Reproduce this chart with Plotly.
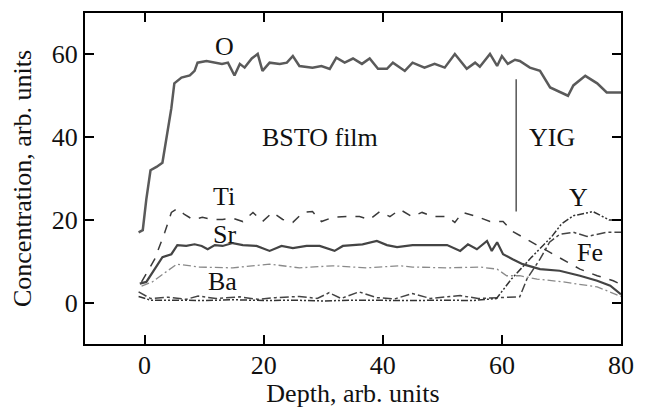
import plotly.graph_objects as go

# ---- data ----
o_x = [-1.0, -0.3, 0.3, 1.0, 2.0, 3.0, 4.5, 5.0, 6.2, 7.6, 8.4, 8.9, 10.4, 11.8, 13.0, 14.0, 15.1, 16.0, 16.8,
       18.0, 19.0, 19.8, 21.0, 22.7, 23.9, 24.9, 26.0, 28.2, 29.7, 31.1, 32.2, 33.6, 35.0, 36.5, 37.8, 39.2,
       40.7, 41.7, 43.7, 45.0, 47.0, 48.7, 50.4, 52.1, 54.1, 55.5, 56.3, 58.0, 59.2, 60.0, 61.0, 62.2, 63.0,
       64.7, 66.4, 68.1, 69.2, 71.1, 72.0, 74.0, 76.0, 77.6, 79.5, 80.0]
o_y = [17, 17.5, 25, 32, 32.8, 33.8, 47, 53, 54.4, 54.9, 56, 58, 58.4, 58, 57.7, 58, 54.9, 57.7, 56.8,
       59, 60.1, 56, 58, 57.7, 58, 59.6, 57.2, 56.8, 57.2, 56.5, 59.2, 58, 59, 57.7, 59, 56.5,
       56.5, 58, 56, 58, 56.8, 57.7, 56.8, 60.1, 56.5, 58, 57, 60.1, 57.2, 59.6, 57.7, 58.7, 58.4,
       56.8, 56, 52, 51.3, 50, 52.5, 54.8, 53, 50.8, 50.8, 50.8]

ti_x = [-0.5, 1.7, 3.4, 4.5, 5.5, 6.7, 8.1, 9.7, 11.4, 13.1, 14.8, 16.5, 18.2, 19.8, 21.5, 23.2, 24.9, 26.6,
        28.2, 29.7, 31.6, 33.9, 36.1, 37.8, 39.5, 41.2, 42.9, 44.9, 46.6, 48.4, 50.8, 52.1, 53.4, 55.8, 58.0,
        60.2, 61.8, 64.2, 67.6, 70.3, 73.1, 76.0, 78.7, 80.0]
ti_y = [5, 10.5, 17, 21.8, 22.7, 21.3, 20.1, 20.6, 20.1, 20.1, 20.4, 19.6, 21.8, 19.6, 21.8, 20.1, 19.4, 21.8,
        22, 19.6, 20.6, 20.8, 20.8, 20.1, 22, 20.8, 22.5, 20.8, 21.8, 20.8, 20.8, 19.4, 21.8, 20.8, 19.6,
        19.6, 17.2, 15.3, 12.5, 10.5, 8.1, 6.5, 5.3, 4.4]

sr_x = [-0.8, 0.3, 3.0, 4.5, 5.5, 7.0, 8.4, 9.6, 10.6, 11.8, 13.1, 14.8, 16.5, 18.8, 21.0, 23.0, 24.9, 27.2,
        29.4, 31.9, 33.3, 36.6, 39.0, 40.7, 42.4, 45.0, 50.8, 53.0, 54.3, 55.8, 57.5, 58.3, 59.2, 60.2,
        61.8, 63.5, 66.4, 69.7, 73.1, 76.0, 78.2, 80.0]
sr_y = [4.6, 5.0, 11, 11.7, 13.9, 13.7, 14.1, 13.7, 12.9, 13.9, 13.7, 14.4, 13.9, 13.7, 12.5, 13.7, 13.2, 13.7,
        13.7, 12.5, 13.7, 14.1, 14.9, 13.9, 13.4, 13.9, 13.9, 12.5, 14.1, 12.9, 14.9, 12.5, 14.6, 11.7,
        10.5, 9.3, 8.1, 7.7, 6.5, 5.3, 4.1, 2.0]

ba_x = [-0.5, 1.3, 5.4, 9.2, 14.8, 21.0, 26.0, 31.6, 37.3, 42.9, 45.0, 50.8, 56.3, 59.2, 60.8, 63.0, 65.9,
        70.3, 76.0, 80.0]
ba_y = [4, 5, 9.3, 8.6, 8.4, 9.3, 8.4, 8.9, 8.4, 8.9, 8.6, 8.4, 8.6, 8.1, 6.5, 6.5, 5.7, 5.0, 3.8, 1.5]

y_x = [-1.0, 1.0, 5.0, 10.0, 15.0, 20.0, 25.0, 30.0, 35.0, 40.0, 45.0, 50.0, 55.0, 59.1, 61.6, 65.0, 68.4,
       70.0, 72.0, 75.3, 78.0, 80.0]
y_y = [1.5, 0.6, 0.6, 0.5, 0.7, 0.5, 0.6, 0.4, 0.6, 0.5, 0.5, 0.6, 0.5, 1.0, 5.7, 11, 16, 19, 21, 22, 20, 20]

fe_x = [-1.0, 1.0, 4.0, 7.0, 9.0, 12.0, 16.0, 19.0, 22.0, 26.0, 29.0, 31.0, 33.0, 36.0, 39.0, 42.0, 45.0,
        48.0, 50.0, 53.0, 56.0, 60.0, 63.0, 64.2, 66.4, 68.0, 69.7, 72.0, 74.3, 77.6, 80.0]
fe_y = [2.6, 1.0, 1.3, 0.8, 1.6, 1.0, 1.4, 0.8, 1.2, 1.5, 1.0, 2.4, 1.0, 2.6, 1.2, 0.9, 2.2, 1.0, 1.3, 1.7,
        1.0, 1.2, 1.4, 5.7, 10.5, 14.6, 16.5, 17, 16, 17, 17]

boundary_x = [62.4, 62.4]
boundary_y = [22, 54]

x_ticks = [0, 20, 40, 60, 80]
y_ticks = [0, 20, 40, 60]

labels = ["O", "BSTO film", "YIG", "Ti", "Sr", "Ba", "Y", "Fe"]
label_x = [13.4, 29.4, 68.4, 13.4, 13.4, 13.1, 72.8, 74.8]
label_y = [62, 40, 40, 25.6, 16.5, 5.0, 25.4, 12.2]

FONT = "Liberation Serif, Times New Roman, serif"
FS = 26

fig = go.Figure()

def add_line(x, y, color, width, dash="solid"):
    fig.add_trace(go.Scatter(x=x, y=y, mode="lines", line=dict(color=color, width=width, dash=dash),
                             showlegend=False, hoverinfo="skip"))

add_line(ba_x, ba_y, "#8a8a8a", 1.3, "8px,3px,2px,3px")
add_line(fe_x, fe_y, "#444444", 1.5, "dashdot")
add_line(y_x, y_y, "#333333", 1.5, "7px,2px,2px,2px,2px,2px")
add_line(ti_x, ti_y, "#3a3a3a", 1.5, "dash")
add_line(sr_x, sr_y, "#444444", 2.2)
add_line(o_x, o_y, "#5a5a5a", 2.5)
add_line(boundary_x, boundary_y, "#555555", 1.5)

for t, lx, ly in zip(labels, label_x, label_y):
    fig.add_annotation(x=lx, y=ly, text=t, showarrow=False, font=dict(family=FONT, size=FS, color="#111"))

axis_common = dict(showgrid=False, zeroline=False, showline=True, linecolor="black", linewidth=2,
                   mirror="ticks", ticks="inside", ticklen=9, tickwidth=1.5, tickcolor="black",
                   ticklabeloverflow="allow", automargin=False,
                   tickfont=dict(family=FONT, size=FS, color="#111"))

fig.update_xaxes(range=[-10, 80], tickvals=x_ticks, ticklabelstandoff=-3,
                 title=dict(text="Depth, arb. units",
                 font=dict(family=FONT, size=FS, color="#111"), standoff=0), **axis_common)
fig.update_yaxes(range=[-10, 70], tickvals=y_ticks, title=dict(text="Concentration, arb. units",
                 font=dict(family=FONT, size=FS, color="#111"), standoff=13), **axis_common)

fig.update_layout(width=646, height=408, margin=dict(l=85, r=25, t=13, b=64),
                  plot_bgcolor="white", paper_bgcolor="white")

fig.write_html("out.html", config={"displayModeBar": False},
               post_script="document.body.style.margin='0';document.body.style.overflow='hidden';")
